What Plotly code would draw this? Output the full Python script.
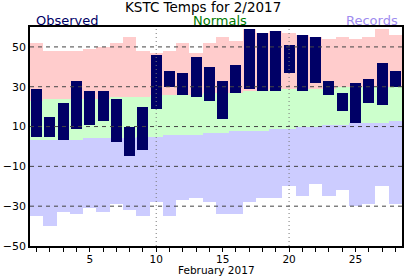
import plotly.graph_objects as go

days = list(range(1, 29))
obs_high = [29, 15, 22, 33, 28, 28, 24, 10, 20, 46, 38, 37, 45, 40, 33, 41, 59, 57, 58, 51, 56, 55, 33, 27, 32, 34, 42, 38]
obs_low = [5, 5, 3, 9, 11, 13, 2, -5, -2, 19, 30, 26, 25, 23, 14, 27, 29, 28, 28, 37, 28, 32, 26, 18, 12, 22, 21, 30]
norm_high = [23, 24, 24, 24, 24, 24, 25, 25, 25, 26, 26, 26, 26, 27, 27, 27, 28, 28, 29, 29, 29, 29, 29, 30, 30, 30, 30, 30]
norm_low = [3, 3, 3, 3, 4, 4, 4, 4, 5, 5, 6, 6, 6, 7, 7, 8, 8, 8, 9, 9, 10, 10, 11, 11, 12, 12, 12, 13]
rec_high = [52, 48, 48, 48, 49, 50, 52, 55, 48, 47, 48, 52, 47, 52, 55, 53, 59, 57, 58, 57, 56, 55, 54, 55, 54, 55, 59, 56]
rec_low = [-35, -40, -33, -34, -31, -33, -29, -32, -35, -28, -35, -27, -26, -28, -34, -34, -28, -26, -26, -20, -25, -19, -25, -22, -30, -29, -20, -29]
y_ticks = [-50, -30, -10, 10, 30, 50]
x_labels = {5: "5", 10: "10", 15: "15", 20: "20", 25: "25"}
dotted_days = [10, 20]

PINK = "#FFCCCC"
GREEN = "#CCFFCC"
LAV = "#CCCCFF"
NAVY = "#000066"

fig = go.Figure()
fig.add_trace(go.Bar(x=days, base=norm_high, y=[r - n for r, n in zip(rec_high, norm_high)],
                     width=1.0, marker=dict(color=PINK, line=dict(width=0)), hoverinfo="skip"))
fig.add_trace(go.Bar(x=days, base=norm_low, y=[h - l for h, l in zip(norm_high, norm_low)],
                     width=1.0, marker=dict(color=GREEN, line=dict(width=0)), hoverinfo="skip"))
fig.add_trace(go.Bar(x=days, base=rec_low, y=[n - r for n, r in zip(norm_low, rec_low)],
                     width=1.0, marker=dict(color=LAV, line=dict(width=0)), hoverinfo="skip"))
fig.add_trace(go.Bar(x=days, base=obs_low, y=[h - l for h, l in zip(obs_high, obs_low)],
                     width=0.83, marker=dict(color=NAVY, line=dict(width=0))))

shapes = []
for v in y_ticks:
    if v == -50:
        continue
    shapes.append(dict(type="line", xref="paper", x0=0, x1=1, yref="y", y0=v, y1=v,
                       line=dict(color="#444444", width=1, dash="4px,4px"), layer="above"))
for d in dotted_days:
    shapes.append(dict(type="line", xref="x", x0=d, x1=d, yref="paper", y0=0, y1=1,
                       line=dict(color="#777777", width=1, dash="1px,3px"), layer="above"))

font = "DejaVu Sans, Verdana, sans-serif"
annotations = [
    dict(text="KSTC Temps for 2/2017", x=202.5, y=7.3, font=dict(size=13.5, color="black")),
    dict(text="Observed", x=67.5, y=21, font=dict(size=13, color=NAVY)),
    dict(text="Normals", x=219.5, y=21, font=dict(size=13, color="#007A00")),
    dict(text="Records", x=371.5, y=21, font=dict(size=13, color="#A08CF0")),
]
L, R, T, B = 30, 402, 27, 246
ann = []
for a in annotations:
    ann.append(dict(text=a["text"], xref="paper", yref="paper",
                    x=(a["x"] - L) / (R - L), y=(B - a["y"]) / (B - T),
                    xanchor="center", yanchor="middle", showarrow=False,
                    font=dict(family=font, **a["font"])))
ann.append(dict(text="February 2017", xref="paper", yref="paper",
                x=(216 - L) / (R - L), y=(B - 269.5) / (B - T),
                xanchor="center", yanchor="middle", showarrow=False,
                font=dict(family=font, size=10.5, color="black")))

fig.update_layout(
    width=412, height=276,
    margin=dict(l=30, r=10, t=27, b=30, autoexpand=False),
    paper_bgcolor="white", plot_bgcolor="white",
    barmode="overlay", bargap=0, showlegend=False,
    font=dict(family=font, size=11, color="black"),
    shapes=shapes, annotations=ann,
    xaxis=dict(range=[0.5, 28.5], tickvals=days,
               ticktext=[x_labels.get(d, "") for d in days],
               ticks="outside", ticklen=4, tickcolor="black", tickwidth=1,
               ticklabelstandoff=-1,
               showgrid=False, zeroline=False, showline=True, linecolor="black",
               linewidth=1.5, mirror=True, tickfont=dict(size=10.5), automargin=False),
    yaxis=dict(range=[-50, 60], tickvals=y_ticks, ticks="", showgrid=False,
               zeroline=False, showline=True, linecolor="black", linewidth=1.5,
               mirror=True, tickfont=dict(size=11), automargin=False),
)
fig.write_html("out.html")
